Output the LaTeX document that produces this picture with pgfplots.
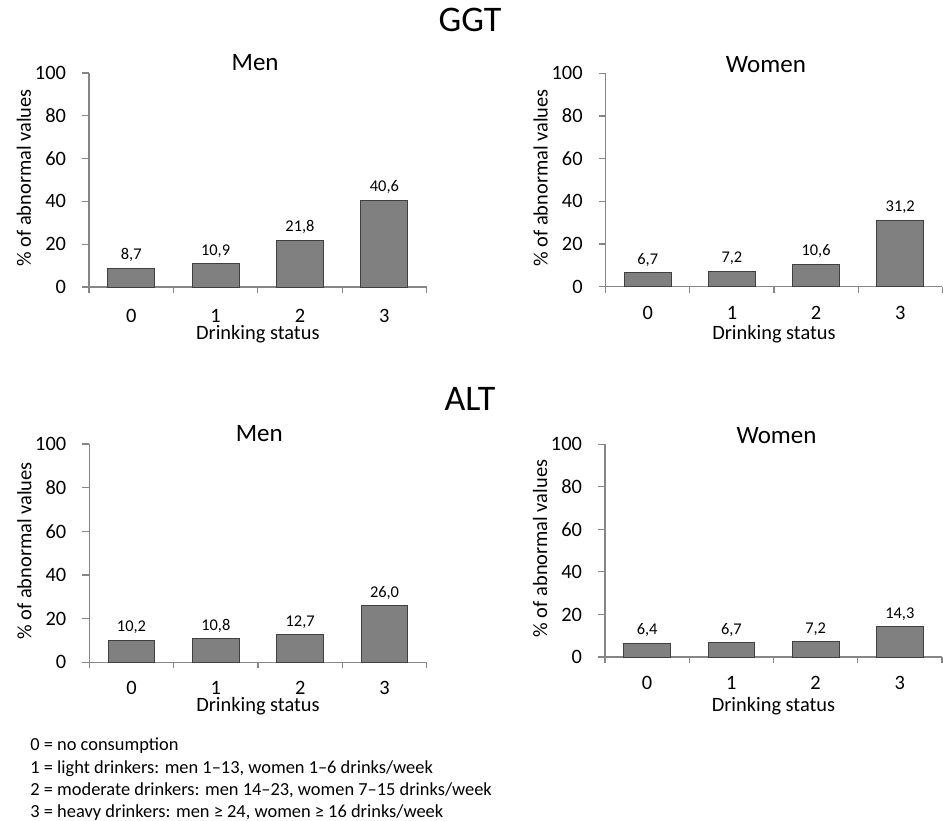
\documentclass[border=0pt]{standalone}
\usepackage{fontspec}
\setmainfont{Carlito}
\usepackage{pgfplots}
\pgfplotsset{compat=1.18}

\definecolor{axgray}{HTML}{868686}
\definecolor{barfill}{HTML}{808080}
\definecolor{baredge}{HTML}{404040}

% scale: 1 px of the reference = 0.5pt
\pgfplotsset{
  panel/.style={
    scale only axis,
    anchor=south west,
    ybar,
    bar width=0.555,
    xmin=-0.5, xmax=3.5,
    ymin=0, ymax=100,
    ytick={0,20,40,60,80,100},
    xtick={0,1,2,3},
    minor xtick={-0.5,0.5,1.5,2.5,3.5},
    axis lines*=left,
    axis line style={axgray, line width=0.6pt},
    tick align=outside,
    major tick length=3.5pt,
    minor tick length=3pt,
    major x tick style={draw=none},
    minor x tick style={axgray, line width=0.6pt},
    major y tick style={axgray, line width=0.6pt},
    /pgf/number format/assume math mode=true,
    tick label style={font=\fontsize{10.2}{12}\selectfont},
    yticklabel style={anchor=east, xshift=-4.5pt},
    xlabel={Drinking status},
    ylabel={\% of abnormal values},
    label style={font=\fontsize{10.2}{12}\selectfont},
    ylabel style={at={(rel axis cs:0,0.51)}, anchor=center, yshift=32.5pt},
    title style={font=\fontsize{12.5}{14}\selectfont, anchor=base},
    nodes near coords={\pgfmathprintnumber[fixed,fixed zerofill,precision=1,use comma,assume math mode=true]{\pgfplotspointmeta}},
    nodes near coords align={vertical},
    every node near coord/.append style={font=\fontsize{8.2}{10}\selectfont, anchor=base, yshift=4.2pt, black},
  },
  bars/.style={fill=barfill, draw=baredge, line width=0.5pt},
}

\begin{document}
\begin{tikzpicture}
\path[use as bounding box] (0pt,0pt) rectangle (471.5pt,-410pt);

% GGT, men
\begin{axis}[panel,
  at={(44.5pt,-143.5pt)}, width=168.8pt, height=107pt,
  title={Men}, title style={at={(rel axis cs:0.492,1)}, yshift=-4.9pt},
  xticklabel style={anchor=base, yshift=-14.2pt},
  xlabel style={at={(rel axis cs:0.5,0)}, anchor=base, yshift=-26pt}]
\addplot[bars] coordinates {(0,8.7) (1,10.9) (2,21.8) (3,40.6)};
\end{axis}

% GGT, women
\begin{axis}[panel,
  at={(302.85pt,-143.35pt)}, width=168.3pt, height=106.7pt,
  title={Women}, title style={at={(rel axis cs:0.476,1)}, yshift=-5.8pt},
  xticklabel style={anchor=base, yshift=-12.8pt},
  xlabel style={at={(rel axis cs:0.5,0)}, anchor=base, yshift=-26.5pt}]
\addplot[bars] coordinates {(0,6.7) (1,7.2) (2,10.6) (3,31.2)};
\end{axis}

% ALT, men
\begin{axis}[panel,
  at={(44.65pt,-331.15pt)}, width=168.7pt, height=109.2pt,
  title={Men}, title style={at={(rel axis cs:0.504,1)}, yshift=-5pt},
  xticklabel style={anchor=base, yshift=-12.5pt},
  xlabel style={at={(rel axis cs:0.5,0)}, anchor=base, yshift=-24.7pt}]
\addplot[bars] coordinates {(0,10.2) (1,10.8) (2,12.7) (3,26.0)};
\end{axis}

% ALT, women
\begin{axis}[panel,
  at={(302.5pt,-328.5pt)}, width=168.5pt, height=106.4pt,
  title={Women}, title style={at={(rel axis cs:0.509,1)}, yshift=-5.4pt},
  xticklabel style={anchor=base, yshift=-12.5pt},
  xlabel style={at={(rel axis cs:0.5,0)}, anchor=base, yshift=-27pt}]
\addplot[bars] coordinates {(0,6.4) (1,6.7) (2,7.2) (3,14.3)};
\end{axis}

\node[anchor=base, font=\fontsize{18}{20}\selectfont] at (235pt,-15.5pt) {GGT};
\node[anchor=base, font=\fontsize{18}{20}\selectfont] at (235pt,-205pt) {ALT};

\begin{scope}[every node/.style={anchor=base west, inner sep=0pt, font=\fontsize{9.2}{11}\selectfont}]
\node at (15pt,-375pt) {0 = no consumption};
\node at (15pt,-386.5pt) {1 = light drinkers: men 1–13, women 1–6 drinks/week};
\node at (15pt,-397.5pt) {2 = moderate drinkers: men 14–23, women 7–15 drinks/week};
\node at (15pt,-408.5pt) {3 = heavy drinkers: men ≥ 24, women ≥ 16 drinks/week};
\end{scope}
\end{tikzpicture}
\end{document}
